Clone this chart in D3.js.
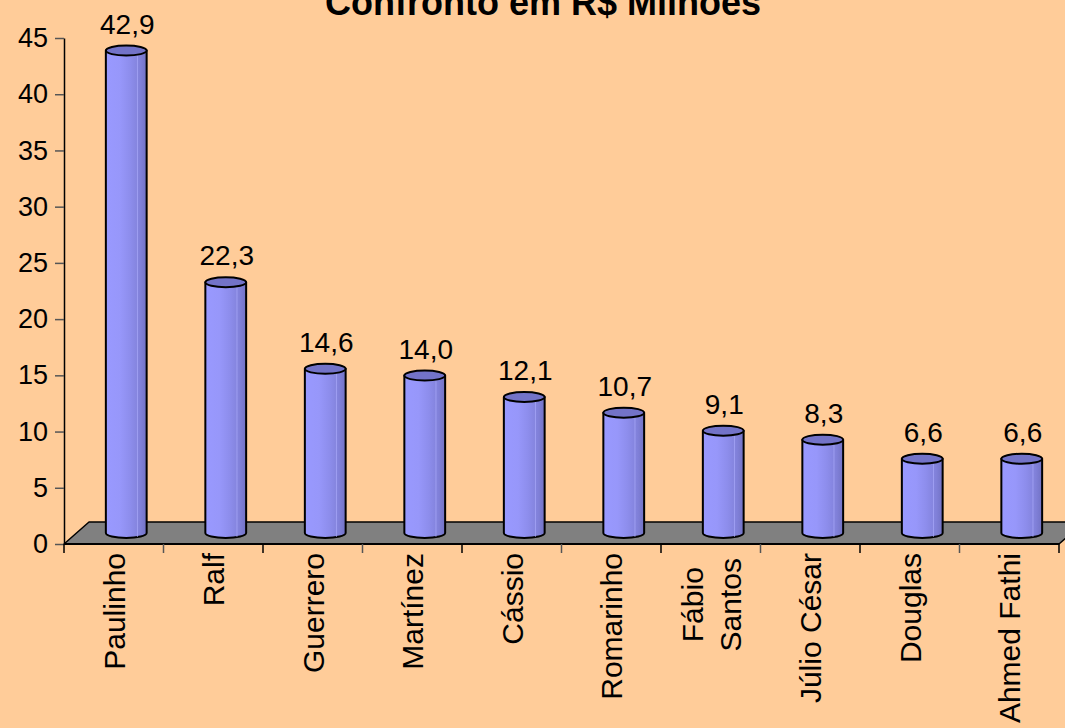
<!DOCTYPE html>
<html>
<head>
<meta charset="utf-8">
<script src="https://d3js.org/d3.v7.min.js"></script>
<style>
  html, body { margin: 0; padding: 0; background: #ffcc99; }
  svg { display: block; font-family: "Liberation Sans", Arial, sans-serif; }
</style>
</head>
<body>
<div id="chart"></div>
<script>
// chart data
const players = ['Paulinho', 'Ralf', 'Guerrero', 'Martínez', 'Cássio', 'Romarinho', 'Fábio\nSantos', 'Júlio César', 'Douglas', 'Ahmed Fathi'];
const values = [42.9, 22.3, 14.6, 14.0, 12.1, 10.7, 9.1, 8.3, 6.6, 6.6];
const yTicks = [0, 5, 10, 15, 20, 25, 30, 35, 40, 45];
const title = 'Confronto em R$ Milhões';

const W = 1065, H = 728;
const depth = { dx: 25, dy: -22 };   // floor depth offset

const svg = d3.select('#chart').append('svg')
    .attr('width', W)
    .attr('height', H);

svg.append('rect').attr('width', W).attr('height', H).attr('fill', '#ffcc99');

// gradients for the cylinders
const defs = svg.append('defs');
const grad = defs.append('linearGradient').attr('id', 'cyl').attr('x1', '0').attr('x2', '1').attr('y1', '0').attr('y2', '0');
[[0, '#9999ff'], [0.35, '#9797fa'], [0.6, '#8d8dec'], [0.85, '#8080d8'], [1, '#7272c4']].forEach(([o, c]) => {
    grad.append('stop').attr('offset', o).attr('stop-color', c);
});

// scales
const x = d3.scaleBand()
    .domain(players)
    .range([64, 1059])
    .padding(0);

const y = d3.scaleLinear()
    .domain([0, 45])
    .range([544, 38]);

const x0 = x.range()[0], x1 = x.range()[1], y0 = y(0);

// floor
svg.append('path')
    .attr('d', `M${x0},${y0} L${x0 + depth.dx},${y0 + depth.dy} L${x1 + depth.dx},${y0 + depth.dy} L${x1},${y0} Z`)
    .attr('fill', '#808080')
    .attr('stroke', '#000')
    .attr('stroke-width', 1.5)
    .attr('stroke-linejoin', 'round');

// y axis
const yAxis = svg.append('g')
    .attr('transform', `translate(${x0},0)`)
    .call(d3.axisLeft(y).tickValues(yTicks).tickSize(9).tickSizeOuter(0).tickPadding(7));
yAxis.select('.domain').attr('stroke', '#000').attr('stroke-width', 1.5);
yAxis.selectAll('.tick line').attr('stroke', '#555').attr('stroke-width', 1.5);
yAxis.selectAll('.tick text')
    .attr('font-size', 27)
    .attr('fill', '#000')
    .attr('font-family', '"Liberation Sans", Arial, sans-serif');

// category axis line + ticks at band boundaries
svg.append('line')
    .attr('x1', x0).attr('x2', x1)
    .attr('y1', y0).attr('y2', y0)
    .attr('stroke', '#000').attr('stroke-width', 2);

const bounds = players.map(p => x(p)).concat([x(players[players.length - 1]) + x.bandwidth()]);
svg.selectAll('.xtick')
    .data(bounds)
    .enter()
    .append('line')
    .attr('class', 'xtick')
    .attr('x1', d => d).attr('x2', d => d)
    .attr('y1', y0).attr('y2', y0 + 9)
    .attr('stroke', (d, i) => i % 2 ? '#555' : '#000')
    .attr('stroke-width', 1.5);

// cylinders
const bw = x.bandwidth() * 0.41;
const rx = bw / 2, ry = 5;
const off = { dx: depth.dx / 2, dy: depth.dy / 2 };
const cx = p => x(p) + x.bandwidth() / 2 + off.dx;

const bars = svg.selectAll('.bar')
    .data(players.map((p, i) => ({ name: p, value: values[i] })))
    .enter()
    .append('g')
    .attr('class', 'bar');

bars.append('path')
    .attr('d', d => {
        const c = cx(d.name), top = y(d.value) + off.dy, base = y(0) + off.dy;
        return `M${c - rx},${top} L${c - rx},${base} A${rx},${ry} 0 0 0 ${c + rx},${base} L${c + rx},${top} Z`;
    })
    .attr('fill', 'url(#cyl)')
    .attr('stroke', '#000')
    .attr('stroke-width', 2)
    .attr('stroke-linejoin', 'round');

// faint highlight streaks
bars.append('line')
    .attr('x1', d => cx(d.name) + rx * 0.55).attr('x2', d => cx(d.name) + rx * 0.55)
    .attr('y1', d => y(d.value) + off.dy + ry)
    .attr('y2', d => y(0) + off.dy + ry - 1)
    .attr('stroke', '#b0b0ff').attr('stroke-width', 1).attr('opacity', 0.6);

bars.append('ellipse')
    .attr('cx', d => cx(d.name))
    .attr('cy', d => y(d.value) + off.dy)
    .attr('rx', rx)
    .attr('ry', ry)
    .attr('fill', '#7373c8')
    .attr('stroke', '#000')
    .attr('stroke-width', 2);

// value labels
const fmt = v => d3.format('.1f')(v).replace('.', ',');
bars.append('text')
    .attr('x', d => cx(d.name) + 1)
    .attr('y', d => y(d.value) + off.dy - 17)
    .attr('text-anchor', 'middle')
    .attr('font-size', 28)
    .attr('fill', '#000')
    .text(d => fmt(d.value));

// category labels (rotated)
const labelTop = 553, lineGap = 38;
players.forEach(p => {
    const lines = p.split('\n');
    const c = x(p) + x.bandwidth() / 2;
    const g = svg.append('g');
    const texts = lines.map((ln, i) => {
        const bx = c + 11 + (i - (lines.length - 1) / 2) * lineGap;
        return g.append('text')
            .attr('font-size', 30)
            .attr('fill', '#000')
            .attr('data-bx', bx)
            .text(ln);
    });
    if (lines.length === 1) {
        texts[0].attr('text-anchor', 'end')
            .attr('transform', `translate(${+texts[0].attr('data-bx')},${labelTop}) rotate(-90)`);
    } else {
        const maxLen = d3.max(texts, t => t.node().getComputedTextLength());
        texts.forEach(t => {
            t.attr('text-anchor', 'middle')
                .attr('transform', `translate(${+t.attr('data-bx')},${labelTop + 5 + maxLen / 2}) rotate(-90)`);
        });
    }
});

// title (partly above the top edge, like the original)
svg.append('text')
    .attr('x', 543)
    .attr('y', 15)
    .attr('text-anchor', 'middle')
    .attr('font-size', 36)
    .attr('font-weight', 'bold')
    .attr('fill', '#000')
    .text(title);
</script>
</body>
</html>
